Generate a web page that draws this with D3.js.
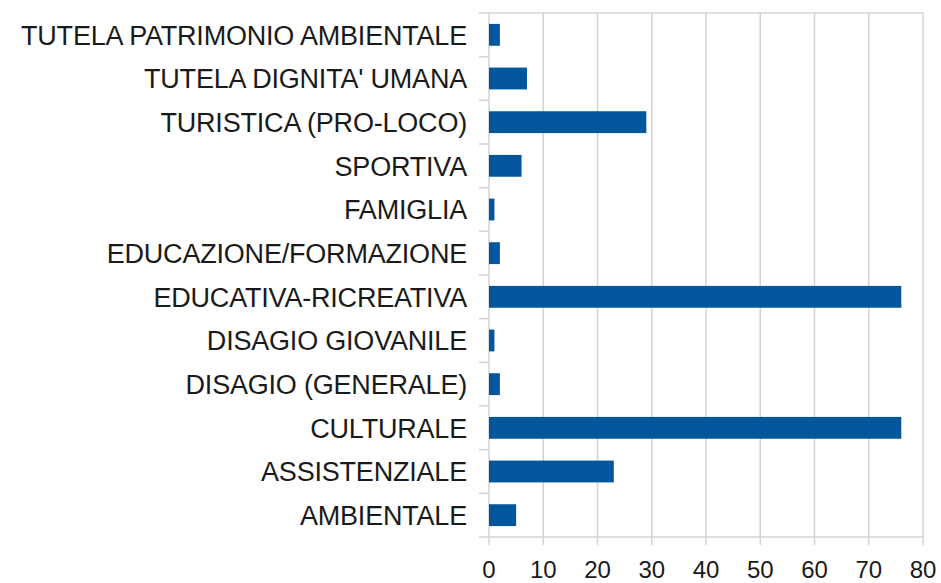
<!DOCTYPE html>
<html>
<head>
<meta charset="utf-8">
<script src="https://cdn.jsdelivr.net/npm/d3@7"></script>
<style>
  body { margin: 0; background: #fff; }
  text { font-family: "Liberation Sans", Arial, sans-serif; fill: #1a1a1a; }
</style>
</head>
<body>
<script>
// categories top to bottom, as in the picture
var categories = ["TUTELA PATRIMONIO AMBIENTALE", "TUTELA DIGNITA' UMANA", "TURISTICA (PRO-LOCO)",
  "SPORTIVA", "FAMIGLIA", "EDUCAZIONE/FORMAZIONE", "EDUCATIVA-RICREATIVA",
  "DISAGIO GIOVANILE", "DISAGIO (GENERALE)", "CULTURALE", "ASSISTENZIALE", "AMBIENTALE"];
var values = [2, 7, 29, 6, 1, 2, 76, 1, 2, 76, 23, 5];
var xTicks = [0, 10, 20, 30, 40, 50, 60, 70, 80];

var width = 941, height = 583;
var margin = {top: 13, right: 18, bottom: 46, left: 489};

var svg = d3.select("body").append("svg").attr("width", width).attr("height", height);

var x = d3.scaleLinear().domain([0, 80]).range([margin.left, width - margin.right]);
var y = d3.scaleBand().domain(categories).range([margin.top, height - margin.bottom]).paddingInner(0.5).paddingOuter(0.25);

var grid = "#d3d3d3";

// vertical gridlines + tick marks below
svg.selectAll("line.grid")
  .data(xTicks)
  .enter().append("line")
  .attr("class", "grid")
  .attr("x1", function(d) { return x(d); })
  .attr("x2", function(d) { return x(d); })
  .attr("y1", margin.top)
  .attr("y2", height - margin.bottom + 8)
  .attr("stroke", grid)
  .attr("stroke-width", 1.5);

// top and bottom border
[margin.top, height - margin.bottom].forEach(function(yy) {
  svg.append("line")
    .attr("x1", margin.left - 10).attr("x2", x(80))
    .attr("y1", yy).attr("y2", yy)
    .attr("stroke", grid).attr("stroke-width", 1.5);
});

// category separator ticks on the left
var bandEdges = categories.map(function(c) { return y(c) - y.step() * y.paddingInner() / 2; });
svg.selectAll("line.ytick")
  .data(bandEdges.slice(1))
  .enter().append("line")
  .attr("x1", margin.left - 10).attr("x2", margin.left)
  .attr("y1", function(d) { return d; }).attr("y2", function(d) { return d; })
  .attr("stroke", grid).attr("stroke-width", 1.5);

// bars
svg.selectAll("rect.bar")
  .data(values)
  .enter().append("rect")
  .attr("class", "bar")
  .attr("x", x(0))
  .attr("y", function(d, i) { return y(categories[i]); })
  .attr("width", function(d) { return x(d) - x(0); })
  .attr("height", y.bandwidth())
  .attr("fill", "#02569b");

// category labels
svg.selectAll("text.cat")
  .data(categories)
  .enter().append("text")
  .attr("class", "cat")
  .attr("x", margin.left - 22)
  .attr("y", function(d) { return y(d) + y.bandwidth() / 2; })
  .attr("dy", "0.36em")
  .attr("text-anchor", "end")
  .attr("font-size", 27)
  .attr("letter-spacing", -0.2)
  .text(function(d) { return d; });

// x tick labels
svg.selectAll("text.xt")
  .data(xTicks)
  .enter().append("text")
  .attr("class", "xt")
  .attr("x", function(d) { return x(d); })
  .attr("y", 578)
  .attr("text-anchor", "middle")
  .attr("font-size", 24)
  .text(function(d) { return d; });
</script>
</body>
</html>
